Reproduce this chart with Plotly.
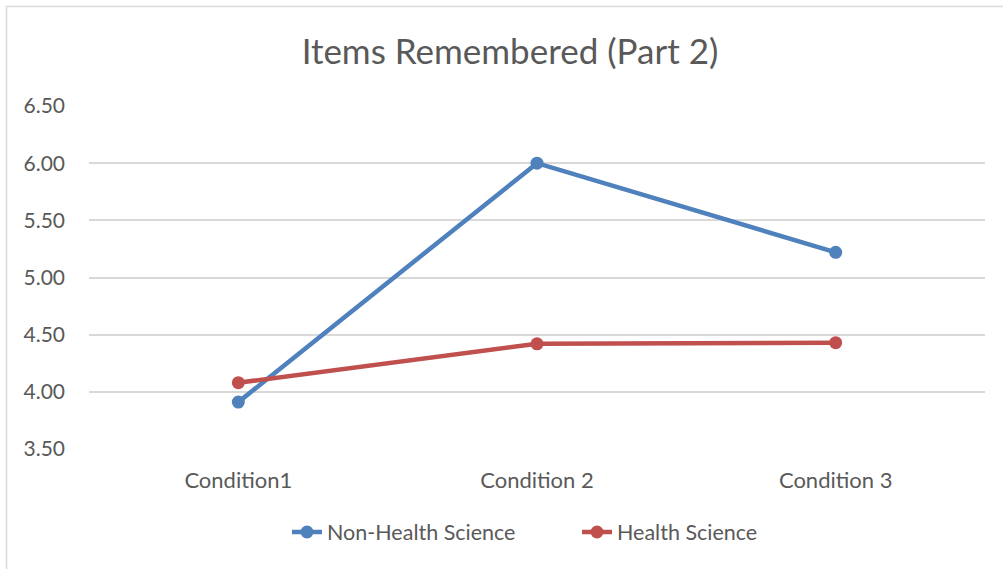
import plotly.graph_objects as go

categories = ["Condition1", "Condition 2", "Condition 3"]
non_health = [3.91, 6.00, 5.22]
health = [4.08, 4.42, 4.43]
y_ticks = [3.5, 4.0, 4.5, 5.0, 5.5, 6.0, 6.5]
y_tick_labels = ["3.50", "4.00", "4.50", "5.00", "5.50", "6.00", "6.50"]

W, H = 1003, 569
L, R, T, B = 89, 18, 106, 120
pw, ph = W - L - R, H - T - B

fig = go.Figure()
fig.add_trace(go.Scatter(x=categories, y=non_health, mode="lines+markers",
                         name="Non-Health Science",
                         line=dict(color="#4f81bd", width=4.5),
                         marker=dict(color="#4f81bd", size=13)))
fig.add_trace(go.Scatter(x=categories, y=health, mode="lines+markers",
                         name="Health Science",
                         line=dict(color="#c0504d", width=4.5),
                         marker=dict(color="#c0504d", size=13)))

font_family = "Lato, Open Sans, sans-serif"
fig.update_layout(
    width=W, height=H,
    margin=dict(l=L, r=R, t=T, b=B),
    paper_bgcolor="white", plot_bgcolor="white",
    title=dict(text="Items Remembered (Part 2)", x=(510 - L) / pw, xref="paper",
               y=1 - 52 / H, yref="container", xanchor="center", yanchor="middle",
               font=dict(family=font_family, size=35, color="#595959")),
    font=dict(family=font_family, size=21, color="#595959"),
    showlegend=True,
    legend=dict(orientation="h", x=(287 - L) / pw, xanchor="left", y=(H - B - 532) / ph,
                yanchor="middle", font=dict(size=21.5, color="#595959"),
                entrywidth=245, entrywidthmode="pixels"),
    xaxis=dict(range=[-0.5, 2.5], showgrid=False, showline=False, zeroline=False,
               ticks="", tickfont=dict(size=22, color="#595959"), ticklabelstandoff=16),
    yaxis=dict(range=[3.5, 6.5], tickvals=y_ticks, ticktext=y_tick_labels,
               showgrid=True, gridcolor="#d9d9d9", gridwidth=1.5, zeroline=False,
               showline=False, ticks="", tickfont=dict(size=21, color="#595959"),
               ticklabelstandoff=23),
    shapes=[dict(type="rect", xref="paper", yref="paper",
                 x0=(6.5 - L) / pw, x1=(W + 20 - L) / pw,
                 y0=(H - B - (H + 20)) / ph, y1=(H - B - 6.5) / ph,
                 line=dict(color="#d9d9d9", width=1.5), fillcolor="rgba(0,0,0,0)",
                 layer="below")],
)

fig.write_html("out.html", config={"displayModeBar": False},
               post_script="document.body.style.margin='0';")
